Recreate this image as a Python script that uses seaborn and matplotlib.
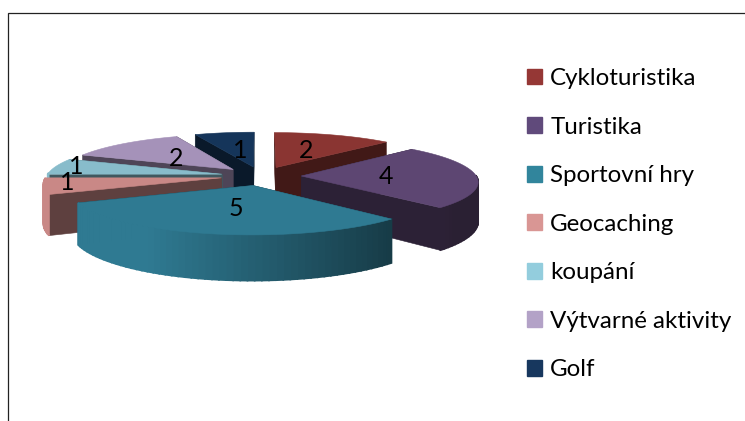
import numpy as np
import seaborn as sns
from matplotlib import pyplot as plt
from matplotlib.patches import Patch

categories = ['Cykloturistika', 'Turistika', 'Sportovní hry', 'Geocaching', 'koupání', 'Výtvarné aktivity', 'Golf']
values = [2, 4, 5, 1, 1, 2, 1]
legend_colors = ['#953735', '#604a7b', '#31859c', '#d99694', '#93cddd', '#b3a2c7', '#17375e']
top_colors = ['#8a3532', '#5d4672', '#2f7a92', '#c98886', '#88bccb', '#a592b9', '#15355a']

# where the value labels sit, in pixels
label_xy = [(306, 151), (386, 176), (236, 208), (67, 183), (76, 166), (176, 158), (240, 151)]

# perspective of the tilted pie
CX, CY = 261, 176
RX, RY = 175, 41
DEPTH = 39
PERSP = 0.12
EXPLODE = 0.23
FACE_SHADE = 0.47


def project(x, y, drop=0.0):
  w = 1 + PERSP * y
  return CX + RX * x / w, CY - RY * y / w + drop * DEPTH / w


def shade(color, factor):
  return tuple(min(1, c * factor) for c in sns.color_palette([color])[0])


def draw_slice(ax, start, end, color):
  mid = (start + end) / 2
  ox, oy = EXPLODE * np.sin(mid), EXPLODE * np.cos(mid)
  ts = np.linspace(start, end, max(int(np.degrees(end - start) / 2), 2) + 1)
  xs, ys = ox + np.sin(ts), oy + np.cos(ts)

  # cut faces
  for t in (start, end):
    ex, ey = ox + np.sin(t), oy + np.cos(t)
    a0, b0 = project(ox, oy)
    a1, b1 = project(ex, ey)
    a2, b2 = project(ex, ey, 1)
    a3, b3 = project(ox, oy, 1)
    ax.fill([a0, a1, a2, a3], [b0, b1, b2, b3], color=shade(color, FACE_SHADE), lw=0.4)

  # outer wall, only where it faces the viewer
  for i in range(len(ts) - 1):
    if np.cos((ts[i] + ts[i + 1]) / 2) > 0.02:
      continue
    a0, b0 = project(xs[i], ys[i])
    a1, b1 = project(xs[i + 1], ys[i + 1])
    a2, b2 = project(xs[i + 1], ys[i + 1], 1)
    a3, b3 = project(xs[i], ys[i], 1)
    factor = np.clip(0.78 - 0.42 * np.sin((ts[i] + ts[i + 1]) / 2), 0.45, 1.0)
    ax.fill([a0, a1, a2, a3], [b0, b1, b2, b3], color=shade(color, factor), lw=1.2)

  # top
  px, py = project(np.r_[ox, xs], np.r_[oy, ys])
  ax.fill(px, py, color=color, lw=0.4)


sns.set_theme(style='white', font='Lato')
fig, ax = plt.subplots(figsize=(7.45, 4.21), dpi=100)
fig.subplots_adjust(0, 0, 1, 1)
ax.set_xlim(0, 745)
ax.set_ylim(421, 0)
ax.axis('off')

edges = np.radians(np.r_[0, np.cumsum(values)] / sum(values) * 360)
draw_order = [6, 0, 5, 4, 3, 1, 2]
for i in draw_order:
  draw_slice(ax, edges[i], edges[i + 1], top_colors[i])

for (x, y), v in zip(label_xy, values):
  ax.text(x, y, str(v), fontsize=18, color='black', ha='center', va='center')

ax.plot([745, 8, 8], [13, 13, 421], color='#222222', lw=0.9, solid_joinstyle='miter')

handles = [Patch(color=c, label=n) for c, n in zip(legend_colors, categories)]
ax.legend(handles=handles, loc='upper left', bbox_to_anchor=(527 / 745, 1 - 68 / 421),
          frameon=False, fontsize=17.4, handlelength=0.63, handleheight=0.63,
          handletextpad=0.33, labelspacing=1.14, borderaxespad=0, borderpad=0, labelcolor='black')

fig.savefig('out.png', dpi=100)
